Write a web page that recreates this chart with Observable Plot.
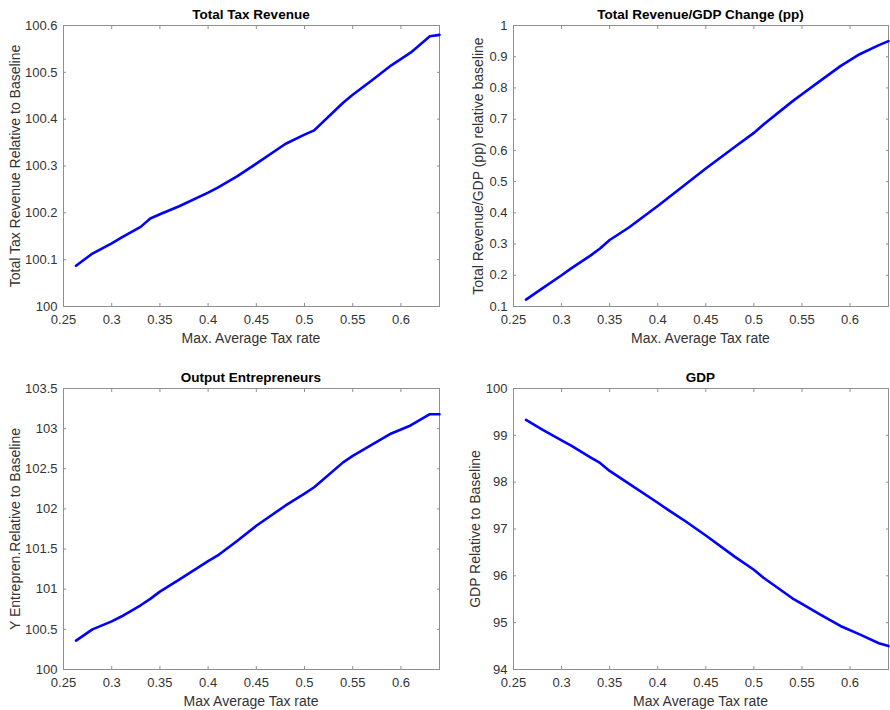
<!DOCTYPE html>
<html>
<head>
<meta charset="utf-8">
<script src="https://cdn.jsdelivr.net/npm/d3@7"></script>
<script src="https://cdn.jsdelivr.net/npm/@observablehq/plot@0.6"></script>
<style>
  html, body { margin: 0; padding: 0; background: #fff; }
  #root { position: relative; width: 890px; height: 710px; font-family: "Liberation Sans", Arial, Helvetica, sans-serif; overflow: hidden; }
  #root svg text { font-size: 13px !important; font-family: "Liberation Sans", Arial, Helvetica, sans-serif !important; }
  .panel { position: absolute; }
  .title { position: absolute; font-weight: bold; font-size: 13.5px; line-height: 16px; color: #000; text-align: center; white-space: nowrap; transform: translate(-50%, -50%); }
  .xlab { position: absolute; font-size: 14px; line-height: 16px; color: #333; white-space: nowrap; transform: translate(-50%, -50%); }
  .ylab { position: absolute; font-size: 14px; line-height: 16px; color: #333; white-space: nowrap; transform: translate(-50%, -50%) rotate(-90deg); }
</style>
</head>
<body>
<div id="root"></div>
<script>
// Shared x grid: max average tax rate
const taxRate = [0.263, 0.28, 0.30, 0.31, 0.33, 0.34, 0.35, 0.37, 0.40, 0.41, 0.43, 0.45, 0.48, 0.50, 0.51, 0.54, 0.55, 0.57, 0.59, 0.61, 0.63, 0.64];

// Series
const totalTaxRevenue = [100.087, 100.113, 100.135, 100.147, 100.170, 100.188, 100.197, 100.214, 100.243, 100.254, 100.278, 100.305, 100.347, 100.367, 100.376, 100.435, 100.452, 100.483, 100.515, 100.542, 100.577, 100.580];
const revenueGdpChange = [0.122, 0.158, 0.200, 0.222, 0.263, 0.286, 0.313, 0.353, 0.422, 0.446, 0.494, 0.542, 0.611, 0.656, 0.683, 0.757, 0.780, 0.825, 0.870, 0.908, 0.937, 0.950];
const outputEntrepreneurs = [100.36, 100.50, 100.60, 100.66, 100.80, 100.88, 100.97, 101.12, 101.35, 101.42, 101.60, 101.79, 102.04, 102.19, 102.27, 102.58, 102.66, 102.80, 102.94, 103.04, 103.18, 103.18];
const gdp = [99.33, 99.12, 98.89, 98.78, 98.53, 98.41, 98.24, 97.97, 97.56, 97.42, 97.15, 96.86, 96.41, 96.13, 95.96, 95.52, 95.40, 95.16, 94.93, 94.75, 94.56, 94.50];

// Tick labels
const xTicks = [0.25, 0.3, 0.35, 0.4, 0.45, 0.5, 0.55, 0.6];
const yTicks1 = [100, 100.1, 100.2, 100.3, 100.4, 100.5, 100.6];
const yTicks2 = [0.1, 0.2, 0.3, 0.4, 0.5, 0.6, 0.7, 0.8, 0.9, 1];
const yTicks3 = [100, 100.5, 101, 101.5, 102, 102.5, 103, 103.5];
const yTicks4 = [94, 95, 96, 97, 98, 99, 100];

const titles = ["Total Tax Revenue", "Total Revenue/GDP Change (pp)", "Output Entrepreneurs", "GDP"];
const yLabels = ["Total Tax Revenue Relative to Baseline", "Total Revenue/GDP (pp) relative baseline", "Y Entrepren.Relative to Baseline", "GDP Relative to Baseline"];
const xLabels = ["Max. Average Tax rate", "Max. Average Tax rate", "Max Average Tax rate", "Max Average Tax rate"];

const panels = [
  {series: totalTaxRevenue, yTicks: yTicks1, yDomain: [100, 100.6], left: 0, top: 0, mL: 63, mR: 6, mT: 25, xLabelY: 338, titleY: 15, yLabelX: 15},
  {series: revenueGdpChange, yTicks: yTicks2, yDomain: [0.1, 1], left: 445, top: 0, mL: 68, mR: 2, mT: 25, xLabelY: 338, titleY: 15, yLabelX: 33},
  {series: outputEntrepreneurs, yTicks: yTicks3, yDomain: [100, 103.5], left: 0, top: 360, mL: 63, mR: 6, mT: 28, xLabelY: 701, titleY: 378, yLabelX: 15},
  {series: gdp, yTicks: yTicks4, yDomain: [94, 100], left: 445, top: 360, mL: 68, mR: 2, mT: 28, xLabelY: 701, titleY: 378, yLabelX: 30}
];

const root = document.getElementById("root");
const W = 445, H = 350, plotH = 281;
const gray = "#8f8f8f";
const textCol = "#333";

panels.forEach((p, i) => {
  const data = taxRate.map((x, j) => ({x, y: p.series[j]}));
  const mB = H - p.mT - plotH;
  const chart = Plot.plot({
    width: W,
    height: H,
    marginLeft: p.mL,
    marginRight: p.mR,
    marginTop: p.mT,
    marginBottom: mB,
    style: {background: "transparent", fontFamily: "'Liberation Sans', Arial, Helvetica, sans-serif", fontSize: "13px", color: textCol, overflow: "visible"},
    x: {domain: [0.25, 0.64], label: null},
    y: {domain: p.yDomain, label: null},
    marks: [
      Plot.frame({stroke: gray, strokeWidth: 1}),
      Plot.axisX({ticks: xTicks, anchor: "bottom", tickSize: -3, tickPadding: 11, stroke: gray, fill: textCol, fontSize: 13, tickFormat: d => String(d), label: null}),
      Plot.axisX({ticks: xTicks, anchor: "top", tickSize: -3, stroke: gray, tickFormat: () => "", label: null}),
      Plot.axisY({ticks: p.yTicks, anchor: "left", tickSize: -3, tickPadding: 9, stroke: gray, fill: textCol, fontSize: 13, tickFormat: d => String(d), label: null}),
      Plot.axisY({ticks: p.yTicks, anchor: "right", tickSize: -3, stroke: gray, tickFormat: () => "", label: null}),
      Plot.line(data, {x: "x", y: "y", stroke: "#0000ff", strokeWidth: 2.6, strokeLinejoin: "round"})
    ]
  });
  const wrap = document.createElement("div");
  wrap.className = "panel";
  wrap.style.left = p.left + "px";
  wrap.style.top = p.top + "px";
  wrap.appendChild(chart);
  root.appendChild(wrap);

  const cx = p.left + p.mL + (W - p.mL - p.mR) / 2;
  const cy = p.top + p.mT + plotH / 2;

  const t = document.createElement("div");
  t.className = "title";
  t.textContent = titles[i];
  t.style.left = cx + "px";
  t.style.top = p.titleY + "px";
  root.appendChild(t);

  const xl = document.createElement("div");
  xl.className = "xlab";
  xl.textContent = xLabels[i];
  xl.style.left = cx + "px";
  xl.style.top = p.xLabelY + "px";
  root.appendChild(xl);

  const yl = document.createElement("div");
  yl.className = "ylab";
  yl.textContent = yLabels[i];
  yl.style.left = (p.left + p.yLabelX) + "px";
  yl.style.top = cy + "px";
  root.appendChild(yl);
});
</script>
</body>
</html>
